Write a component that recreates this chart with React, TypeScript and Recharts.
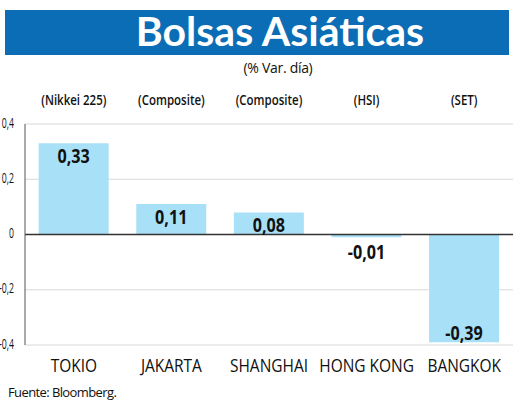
import { BarChart, Bar, XAxis, YAxis, CartesianGrid, ReferenceLine, LabelList } from 'recharts';

const PLAZAS = ['TOKIO', 'JAKARTA', 'SHANGHAI', 'HONG KONG', 'BANGKOK'];
const INDICES = ['(Nikkei 225)', '(Composite)', '(Composite)', '(HSI)', '(SET)'];
const VARIACION = [0.33, 0.11, 0.08, -0.01, -0.39];
const Y_TICKS = [-0.4, -0.2, 0, 0.2, 0.4];

const data = PLAZAS.map((plaza, i) => ({ plaza, indice: INDICES[i], v: VARIACION[i] }));

const SANS = '"Open Sans", sans-serif';
const fmt = (v: number) => (v === 0 ? '0' : String(v).replace('.', ','));

// texto condensado: se estrecha horizontalmente alrededor de su punto de anclaje
function Narrow({ x, y, anchor, size, weight, scale, children }: any) {
  return (
    <text
      transform={`translate(${x},${y}) scale(${scale},1)`}
      textAnchor={anchor}
      dominantBaseline="central"
      fontFamily={SANS}
      fontSize={size}
      fontWeight={weight}
      fill="#111"
    >
      {children}
    </text>
  );
}

const YTick = (p: any) => (
  <Narrow x={p.x - 2} y={p.y - 2} anchor="end" size={15} weight={400} scale={0.58}>
    {fmt(p.payload.value)}
  </Narrow>
);

const TopTick = (p: any) => (
  <Narrow x={p.x} y={100} anchor="middle" size={14} weight={600} scale={0.82}>
    {p.payload.value}
  </Narrow>
);

const BottomTick = (p: any) => (
  <Narrow x={p.x} y={365} anchor="middle" size={18} weight={400} scale={0.86}>
    {p.payload.value}
  </Narrow>
);

function ValueLabel(props: any) {
  const { x, y, width, height, value } = props;
  const top = Math.min(y, y + height);
  const bottom = Math.max(y, y + height);
  const h = bottom - top;
  let ty;
  if (value >= 0) ty = top + 12;
  else if (h < 15) ty = bottom + 14;
  else ty = bottom - 10;
  return (
    <Narrow x={x + width / 2} y={ty} anchor="middle" size={19} weight={700} scale={0.85}>
      {fmt(value)}
    </Narrow>
  );
}

export default function App() {
  return (
    <div style={{ position: 'absolute', left: 0, top: 0, width: 520, height: 418, background: '#fff' }}>
      <div
        style={{
          position: 'absolute',
          left: 5,
          top: 10,
          width: 504,
          height: 45,
          background: '#0b6db5',
        }}
      />
      <div
        style={{
          position: 'absolute',
          left: 0,
          top: 7,
          width: 560,
          textAlign: 'center',
          color: '#fff',
          fontFamily: 'Lato, sans-serif',
          fontWeight: 700,
          fontSize: 41,
          lineHeight: '48px',
        }}
      >
        Bolsas Asiáticas
      </div>
      <div
        style={{
          position: 'absolute',
          left: 0,
          top: 58,
          width: 556,
          textAlign: 'center',
          color: '#111',
          fontFamily: SANS,
          fontSize: 14,
          letterSpacing: -0.3,
        }}
      >
        (% Var. día)
      </div>
      <div style={{ position: 'absolute', left: 0, top: 0 }}>
        <BarChart
          width={520}
          height={418}
          data={data}
          margin={{ top: 94, right: 7, bottom: 43, left: 0 }}
          barCategoryGap="14%"
        >
          <CartesianGrid vertical={false} stroke="#d8d8d8" />
          <XAxis
            xAxisId="top"
            orientation="top"
            dataKey="indice"
            height={30}
            axisLine={false}
            tickLine={false}
            interval={0}
            tick={TopTick}
          />
          <XAxis
            dataKey="plaza"
            height={30}
            axisLine={false}
            tickLine={false}
            interval={0}
            tick={BottomTick}
          />
          <YAxis
            width={25}
            domain={[-0.4, 0.4]}
            ticks={Y_TICKS}
            axisLine={{ stroke: '#555' }}
            tickLine={false}
            tickMargin={3}
            tick={YTick}
          />
          <Bar dataKey="v" fill="#a8e1f7" isAnimationActive={false}>
            <LabelList dataKey="v" content={ValueLabel} />
          </Bar>
          <ReferenceLine y={0} stroke="#333" strokeWidth={1.5} />
        </BarChart>
      </div>
      <div
        style={{
          position: 'absolute',
          left: 8,
          top: 383,
          color: '#111',
          fontFamily: SANS,
          fontSize: 13,
          letterSpacing: -0.6,
        }}
      >
        Fuente: Bloomberg.
      </div>
    </div>
  );
}
